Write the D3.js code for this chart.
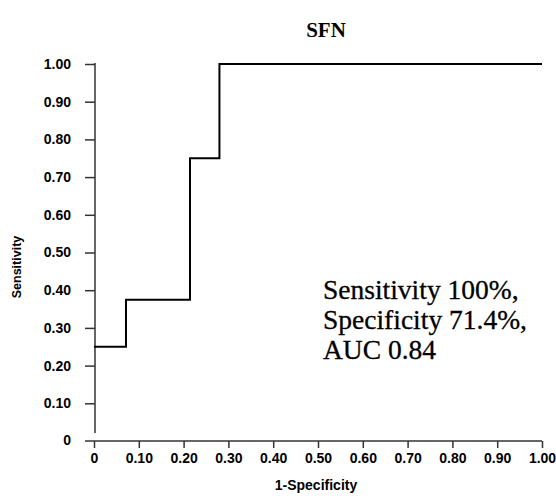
<!DOCTYPE html>
<html>
<head>
<meta charset="utf-8">
<script src="https://cdn.jsdelivr.net/npm/d3@7/dist/d3.min.js"></script>
<style>
  html, body { margin: 0; padding: 0; background: #fff; }
  svg { display: block; }
</style>
</head>
<body>
<svg id="chart" width="556" height="496"></svg>
<script>
// ROC curve data (1-Specificity, Sensitivity)
const fpr = [0, 0.0714, 0.0714, 0.2143, 0.2143, 0.28, 0.28, 1.0];
const tpr = [0.25, 0.25, 0.375, 0.375, 0.75, 0.75, 1.0, 1.0];
const tickValues = [0, 0.1, 0.2, 0.3, 0.4, 0.5, 0.6, 0.7, 0.8, 0.9, 1.0];
const tickLabels = ["0", "0.10", "0.20", "0.30", "0.40", "0.50", "0.60", "0.70", "0.80", "0.90", "1.00"];
const title = "SFN";
const xTitle = "1-Specificity";
const yTitle = "Sensitivity";
const annotation = ["Sensitivity 100%,", "Specificity 71.4%,", "AUC 0.84"];

const svg = d3.select("#chart");
const x = d3.scaleLinear().domain([0, 1]).range([94, 542]);
const y = d3.scaleLinear().domain([0, 1]).range([441, 64]);
const axisColor = "#333";
const sans = "'Liberation Sans', Arial, sans-serif";
const serif = "'Liberation Serif', 'Times New Roman', serif";

// Y axis
const yAxis = svg.append("g")
  .attr("transform", `translate(${x(0) + 1},0)`)
  .call(d3.axisLeft(y).tickValues(tickValues.slice(1)).tickSize(10).tickPadding(14)
    .tickFormat((d, i) => tickLabels[i + 1]));
yAxis.select(".domain").remove();
yAxis.selectAll(".tick line").attr("stroke", axisColor).attr("stroke-width", 1.5);
yAxis.selectAll(".tick text").attr("font-family", sans).attr("font-weight", "bold")
  .attr("font-size", 14).attr("fill", "#000");
svg.append("line").attr("x1", x(0) + 1).attr("x2", x(0) + 1).attr("y1", y(1) - 1).attr("y2", y(0) - 8)
  .attr("stroke", axisColor).attr("stroke-width", 1.5);
// "0" label on y axis
svg.append("text").attr("x", x(0) + 1 - 24).attr("y", y(0)).attr("dy", "0.32em")
  .attr("text-anchor", "end").attr("font-family", sans).attr("font-weight", "bold")
  .attr("font-size", 14).text(tickLabels[0]);

// X axis
const xAxis = svg.append("g")
  .attr("transform", `translate(0,${y(0)})`)
  .call(d3.axisBottom(x).tickValues(tickValues).tickSize(7).tickPadding(5)
    .tickFormat((d, i) => tickLabels[i]));
xAxis.select(".domain").remove();
xAxis.selectAll(".tick line").attr("stroke", axisColor).attr("stroke-width", 1.5);
xAxis.selectAll(".tick text").attr("font-family", sans).attr("font-weight", "bold")
  .attr("font-size", 14).attr("fill", "#000");
svg.append("line").attr("x1", x(0) - 9).attr("x2", x(1)).attr("y1", y(0)).attr("y2", y(0))
  .attr("stroke", axisColor).attr("stroke-width", 1.5);

// ROC step line
const pts = fpr.map((v, i) => [v, tpr[i]]);
svg.append("path")
  .datum(pts)
  .attr("d", d3.line().x(d => x(d[0])).y(d => y(d[1])))
  .attr("fill", "none").attr("stroke", "#000").attr("stroke-width", 2);

// Title
svg.append("text").attr("x", 326).attr("y", 37).attr("text-anchor", "middle")
  .attr("font-family", serif).attr("font-weight", "bold").attr("font-size", 21).text(title);

// Axis titles
svg.append("text").attr("x", 316).attr("y", 490).attr("text-anchor", "middle")
  .attr("font-family", sans).attr("font-weight", "bold").attr("font-size", 14).text(xTitle);
svg.append("text").attr("transform", "translate(21,267) rotate(-90)").attr("text-anchor", "middle")
  .attr("font-family", sans).attr("font-weight", "bold").attr("font-size", 12.5).text(yTitle);

// Annotation
annotation.forEach((t, i) => {
  svg.append("text").attr("x", 323).attr("y", 299 + i * 30)
    .attr("font-family", serif).attr("font-size", 27.5).attr("fill", "#000")
    .attr("stroke", "#000").attr("stroke-width", 0.3).text(t);
});
</script>
</body>
</html>
